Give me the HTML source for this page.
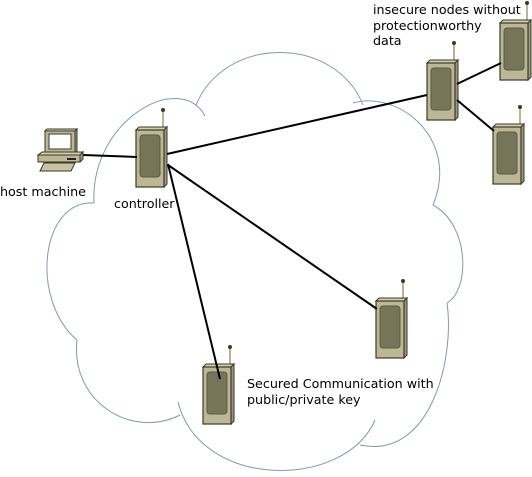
<!DOCTYPE html>
<html><head><style>
html,body{margin:0;padding:0;background:#fff;}
svg{display:block;}
text{font-family:"DejaVu Sans","Liberation Sans",sans-serif;font-size:12.7px;fill:#000;}
</style></head><body>
<svg width="532" height="477" viewBox="0 0 532 477" xmlns="http://www.w3.org/2000/svg">
<defs>
<g id="dev">
<line x1="27" y1="-17" x2="27" y2="1" stroke="#b9b58f" stroke-width="2"/>
<circle cx="27" cy="-17" r="2" fill="#3a3a2c"/>
<polygon points="0,3 3,0 31,0 28,3" fill="#d2cfae" stroke="#3a3a2c" stroke-width="1"/>
<polygon points="28,3 31,0 31,57 28,60" fill="#9c9878" stroke="#3a3a2c" stroke-width="1"/>
<rect x="0" y="3" width="28" height="57" fill="#bcb894" stroke="#3a3a2c" stroke-width="1.2"/>
<rect x="4" y="8" width="20" height="42" rx="3" fill="#76755a" stroke="#5a5a44" stroke-width="1"/>
</g>
</defs>
<g fill="none" stroke="#7f9ea4" stroke-width="1">
<path d="M94,203 C90,120 180,70 205,116"/>
<path d="M196,105 C225,35 335,35 363,105"/>
<path d="M353,103 C400,90 460,140 433,205"/>
<path d="M433,205 C470,225 470,290 447,303"/>
<path d="M447,303 C455,360 430,460 360,445"/>
<path d="M375,420 C345,490 200,490 178,402"/>
<path d="M180,415 C130,440 70,400 77,340"/>
<path d="M77,340 C30,300 40,200 94,203"/>
</g>
<use href="#dev" x="136" y="127"/>
<use href="#dev" x="427" y="60"/>
<use href="#dev" x="500" y="20"/>
<use href="#dev" x="493" y="124"/>
<use href="#dev" x="376" y="298"/>
<use href="#dev" x="203" y="364"/>
<g stroke="#000" stroke-width="2" fill="none">
<line x1="83" y1="155" x2="137" y2="157"/>
<line x1="167" y1="154" x2="427" y2="95"/>
<line x1="457" y1="84" x2="501" y2="63"/>
<line x1="457" y1="100" x2="494" y2="131"/>
<line x1="168" y1="165" x2="377" y2="309"/>
<line x1="168" y1="164" x2="220" y2="379"/>
</g>
<!-- laptop -->
<g stroke="#3a3a2c" stroke-width="1">
<polygon points="45,131 47,129 77,129 75,131" fill="#d2cfae"/>
<rect x="45" y="131" width="30" height="22" fill="#bcb894"/>
<polygon points="75,131 77,129 77,151 75,153" fill="#9c9878"/>
<rect x="49" y="134" width="22" height="15" fill="#fff"/>
<polygon points="38,155 42,152 83,152 80,155" fill="#d2cfae"/>
<rect x="38" y="155" width="42" height="7" fill="#bcb894"/>
<polygon points="80,155 83,152 83,159 80,162" fill="#9c9878"/>
<polygon points="40,171 44,163 75,163 71,171" fill="#c8c4a0"/>
</g>
<rect x="67" y="158" width="9" height="2" fill="#222"/>
<text x="0" y="196" font-size="13.6">host machine</text>
<text x="114" y="208" font-size="13.2">controller</text>
<text x="373" y="14">insecure nodes without</text>
<text x="373" y="30">protectionworthy</text>
<text x="373" y="45">data</text>
<text x="247" y="388">Secured Communication with</text>
<text x="247" y="404">public/private key</text>
</svg>
</body></html>
